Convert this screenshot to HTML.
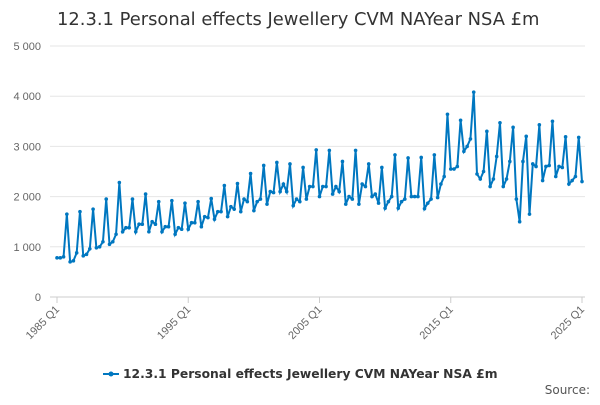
<!DOCTYPE html>
<html><head><meta charset="utf-8"><style>
body{margin:0;background:#fff;font-family:"Liberation Sans",sans-serif;}
svg text{font-family:"Liberation Sans",sans-serif;}
svg text.dj{font-family:"DejaVu Sans",sans-serif;}
</style></head><body>
<svg id="c" width="600" height="400">
<text class="dj" x="57" y="25" font-size="17.9" fill="#333">12.3.1 Personal effects Jewellery CVM NAYear NSA £m</text>
<g id="grid"></g><g id="ylab"></g><g id="xlab"></g><g id="series"></g>
<g>
<line x1="103" y1="374" x2="119" y2="374" stroke="#0077c0" stroke-width="2"/>
<circle cx="111" cy="374" r="2.5" fill="#0077c0"/>
<text class="dj" x="123" y="378" font-size="12.3" font-weight="bold" fill="#333">12.3.1 Personal effects Jewellery CVM NAYear NSA £m</text>
</g>
<text class="dj" x="590" y="394" font-size="12" fill="#555" text-anchor="end">Source:</text>
</svg>
<script>
const yTicks=[0,1000,2000,3000,4000,5000];
const yTickLabels=["0","1 000","2 000","3 000","4 000","5 000"];
const xTickLabels=["1985 Q1","1995 Q1","2005 Q1","2015 Q1","2025 Q1"];
const xTickIndex=[0,40,80,120,160];
const values=[780,780,800,1650,700,720,880,1700,820,850,960,1750,980,1000,1100,1950,1050,1100,1250,2280,
1300,1380,1380,1950,1300,1450,1450,2050,1300,1500,1450,1900,1300,1400,1400,1920,1250,1380,1350,1870,
1350,1480,1480,1900,1400,1600,1580,1960,1550,1700,1700,2220,1600,1800,1750,2260,1700,1950,1900,2460,
1720,1900,1950,2620,1850,2100,2080,2680,2100,2250,2100,2650,1820,1950,1900,2580,1950,2200,2200,2930,
2000,2200,2200,2920,2050,2200,2100,2700,1850,2000,1950,2920,1850,2250,2200,2650,2000,2050,1870,2580,
1770,1900,2000,2830,1770,1900,1950,2770,2000,2000,2000,2780,1760,1870,1950,2830,1980,2250,2400,3640,
2550,2550,2600,3520,2900,3000,3150,4080,2450,2350,2500,3300,2200,2350,2800,3470,2200,2350,2700,3380,
1950,1500,2700,3200,1650,2650,2600,3430,2320,2600,2620,3500,2400,2600,2580,3190,2250,2320,2400,3180,2300];
const X0=57,X1=582,Y0=297,Y1=46;
const x=i=>X0+(X1-X0)*i/(values.length-1);
const y=v=>Y0-(Y0-Y1)*v/5000;
const NS="http://www.w3.org/2000/svg";
const mk=(t,a,p)=>{const e=document.createElementNS(NS,t);for(const k in a)e.setAttribute(k,a[k]);p.appendChild(e);return e;};
const grid=document.getElementById('grid'),yl=document.getElementById('ylab'),xl=document.getElementById('xlab'),sr=document.getElementById('series');
yTicks.forEach((t,i)=>{
 const l=mk('line',{x1:50,x2:585,y1:y(t),y2:y(t),stroke:t===0?'#ccc':'#e6e6e6','stroke-width':1},grid);
 
 
 const tx=mk('text',{x:41,y:y(t)+4,'font-size':11,fill:'#666','text-anchor':'end'},yl);
 tx.textContent=yTickLabels[i];
 
 
});
xTickIndex.forEach((ix,i)=>{
 const px=x(ix);
 const tk=mk('line',{x1:px,x2:px,y1:297,y2:303,stroke:'#ccc'},xl);
 
 
 const tx=mk('text',{x:px+3,y:310,'font-size':11,fill:'#666','text-anchor':'end',transform:`rotate(-45 ${px+3} 310)`},xl);
 tx.textContent=xTickLabels[i];
 
 
});
const path=mk('polyline',{points:values.map((v,i)=>x(i)+','+y(v)).join(' '),fill:'none',stroke:'#0077c0','stroke-width':2},sr);


values.forEach((v,i)=>{
 const c=mk('circle',{cx:x(i),cy:y(v),r:1.8,fill:'#0077c0'},sr);
 
 
});
</script>
</body></html>
